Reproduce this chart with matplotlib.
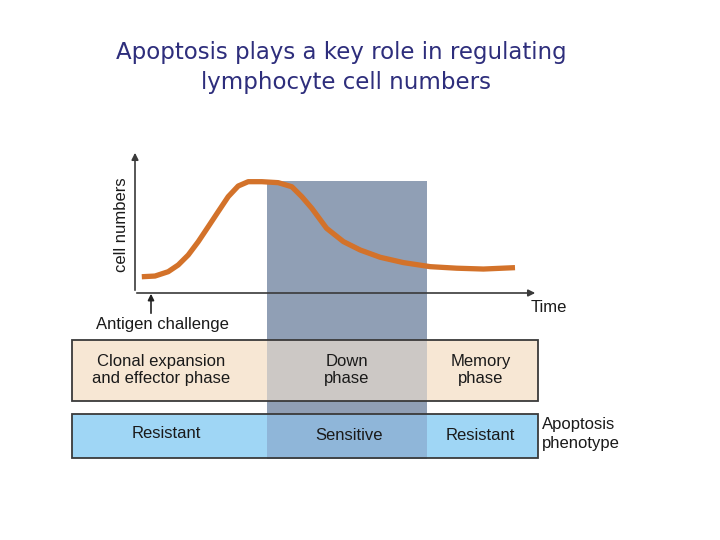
import matplotlib
matplotlib.use("Agg")
import matplotlib.pyplot as plt
from matplotlib.patches import Rectangle

# ---- data ----
time = [1.7, 5.0, 8.3, 10.8, 13.3, 15.8, 18.3, 20.8, 23.3, 25.8, 28.3, 31.7, 35.8,
        39.2, 41.7, 44.2, 47.9, 52.1, 56.3, 61.3, 67.1, 73.8, 80.4, 87.1, 95.0]
cells = [10.9, 11.4, 14.5, 19.3, 26.4, 35.9, 46.6, 57.4, 68.1, 75.7, 78.8, 78.8, 78.1,
         75.2, 68.1, 59.8, 45.5, 36.0, 30.0, 24.8, 21.0, 18.1, 17.0, 16.4, 17.4]
phase_labels = ["Clonal expansion\nand effector phase", "Down\nphase", "Memory\nphase"]
phenotype_labels = ["Resistant", "Sensitive", "Resistant"]
title_lines = ["Apoptosis plays a key role in regulating", "lymphocyte cell numbers"]

W, H = 720, 540
fig = plt.figure(figsize=(7.2, 5.4), dpi=100)
fig.patch.set_facecolor("white")

# full-figure pixel axes for the diagram furniture
bg = fig.add_axes([0, 0, 1, 1])
bg.set_xlim(0, W)
bg.set_ylim(H, 0)
bg.axis("off")

font = "Liberation Sans"
edge = "#3a3a3a"

# phase boxes
bg.add_patch(Rectangle((72, 340), 466, 61, facecolor="#f7e7d4", edgecolor="none", zorder=1))
bg.add_patch(Rectangle((72, 414), 466, 44, facecolor="#9fd6f5", edgecolor="none", zorder=1))

# shaded down-phase column
bg.add_patch(Rectangle((267, 181), 160, 159, facecolor="#909fb5", edgecolor="none", zorder=1))
bg.add_patch(Rectangle((267, 340), 160, 61, facecolor="#ccc8c5", edgecolor="none", zorder=2))
bg.add_patch(Rectangle((267, 401), 160, 13, facecolor="#909fb5", edgecolor="none", zorder=2))
bg.add_patch(Rectangle((267, 414), 160, 45, facecolor="#8fb6d9", edgecolor="none", zorder=2))

# box borders
bg.add_patch(Rectangle((72, 340), 466, 61, facecolor="none", edgecolor=edge, lw=1.3, zorder=3))
bg.add_patch(Rectangle((72, 414), 466, 44, facecolor="none", edgecolor=edge, lw=1.3, zorder=3))

# texts in boxes
phase_x = [161, 347, 481]
for x, t in zip(phase_x, phase_labels):
    bg.text(x, 370, t, ha="center", va="center", fontsize=12, family=font,
            color="#1a1a1a", linespacing=1.15, zorder=4)
pheno_x = [166, 349, 480]
pheno_y = [434, 436, 435]
for x, y, t in zip(pheno_x, pheno_y, phenotype_labels):
    bg.text(x, y, t, ha="center", va="center", fontsize=12, family=font,
            color="#1a1a1a", zorder=4)
bg.text(542, 434, "Apoptosis\nphenotype", ha="left", va="center", fontsize=12,
        family=font, color="#1a1a1a", linespacing=1.3)

# title
bg.text(341, 52, title_lines[0], ha="center", va="center", fontsize=16.5,
        family="DejaVu Sans", color="#2e2e7c")
bg.text(346, 82, title_lines[1], ha="center", va="center", fontsize=16.5,
        family="DejaVu Sans", color="#2e2e7c")

# axes arrows
bg.annotate("", xy=(135, 150), xytext=(135, 293),
            arrowprops=dict(arrowstyle="-|>", color=edge, lw=1.2, mutation_scale=10), zorder=5)
bg.annotate("", xy=(538, 293), xytext=(134, 293),
            arrowprops=dict(arrowstyle="-|>", color=edge, lw=1.2, mutation_scale=10), zorder=5)
bg.annotate("", xy=(151, 291), xytext=(151, 316),
            arrowprops=dict(arrowstyle="-|>", color="#222222", lw=1.2, mutation_scale=9), zorder=5)
bg.text(96, 324, "Antigen challenge", ha="left", va="center", fontsize=12,
        family=font, color="#1a1a1a")
bg.text(531, 307, "Time", ha="left", va="center", fontsize=12,
        family=font, color="#1a1a1a")
bg.text(121, 225, "cell numbers", ha="center", va="center", fontsize=12,
        family=font, color="#1a1a1a", rotation=90)

# curve axes: x px 135..535 -> time 0..100, y px 292..152 -> 0..100
ax = fig.add_axes([135 / W, 1 - 292 / H, 400 / W, 140 / H])
ax.set_xlim(0, 100)
ax.set_ylim(0, 100)
ax.axis("off")
ax.patch.set_alpha(0)
ax.plot(time, cells, color="#d3722a", lw=3.8, solid_capstyle="butt",
        solid_joinstyle="round", zorder=6)

fig.savefig("out.png", dpi=100, facecolor="white")
